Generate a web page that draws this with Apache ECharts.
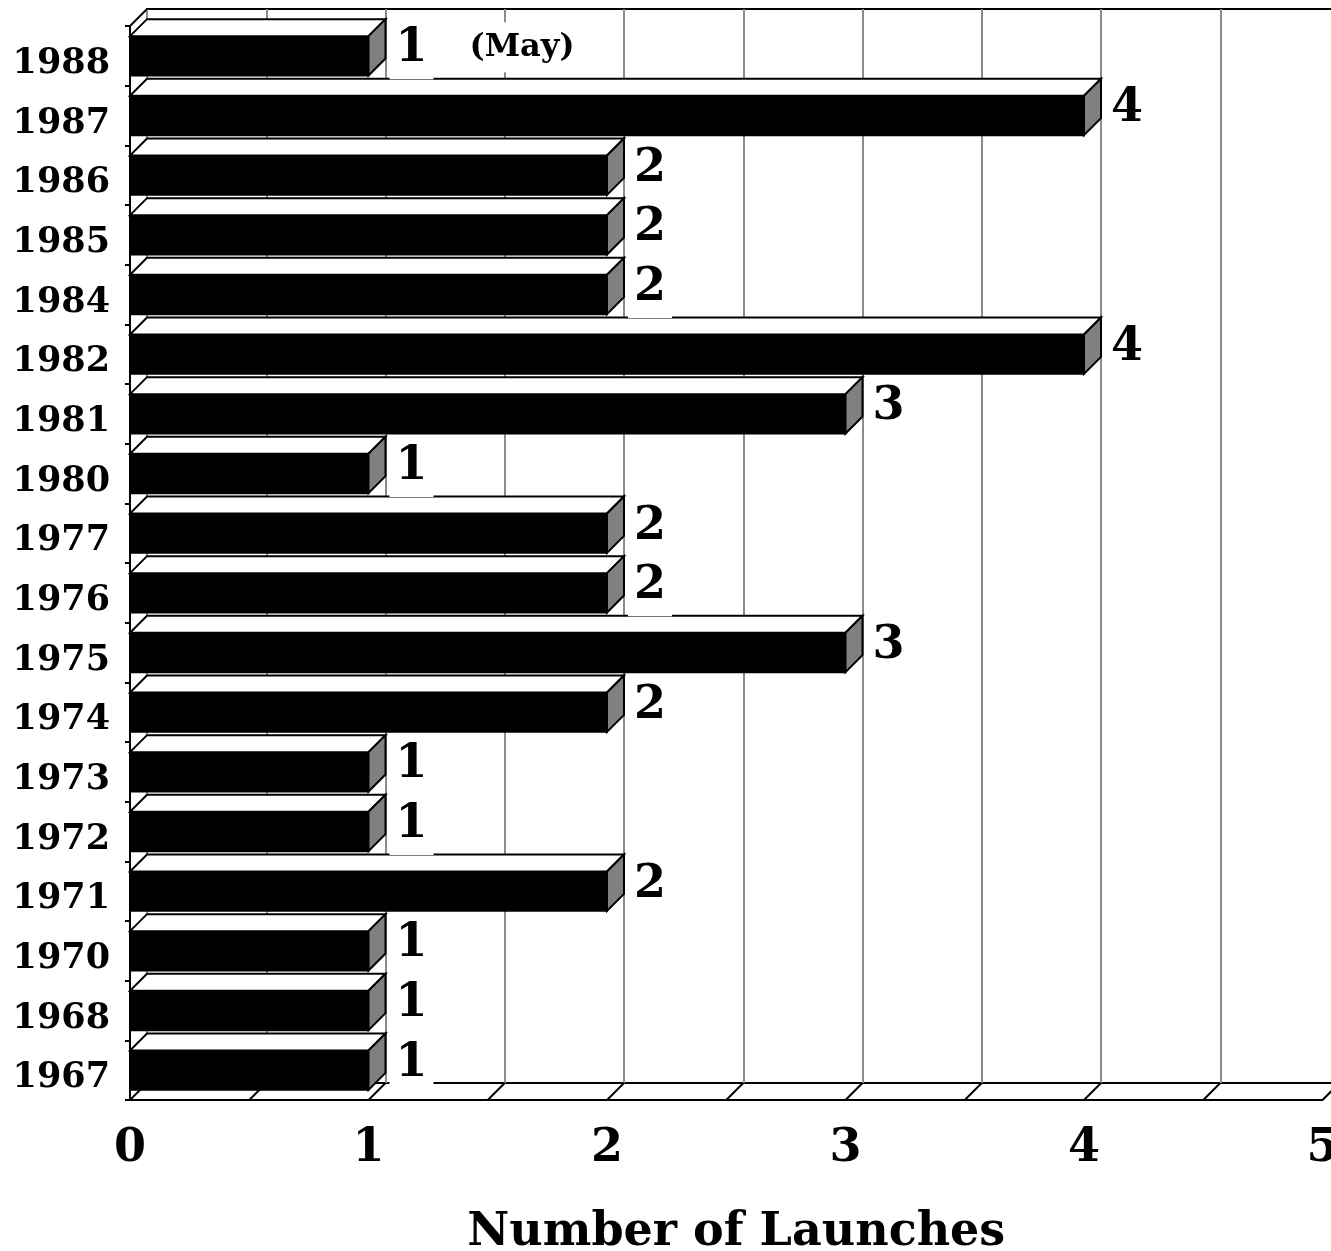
<!DOCTYPE html>
<html>
<head>
<meta charset="utf-8">
<script src="https://cdn.jsdelivr.net/npm/echarts@6/dist/echarts.min.js"></script>
<style>
  html, body { margin: 0; padding: 0; background: #fff; }
  #chart { width: 1331px; height: 1251px; }
</style>
</head>
<body>
<div id="chart"></div>
<script>
// years from bottom to top
const years = ['1967', '1968', '1970', '1971', '1972', '1973', '1974', '1975', '1976',
  '1977', '1980', '1981', '1982', '1984', '1985', '1986', '1987', '1988'];
const launches = [1, 1, 1, 2, 1, 1, 2, 3, 2, 2, 1, 3, 4, 2, 2, 2, 4, 1];
const notes = ['', '', '', '', '', '', '', '', '', '', '', '', '', '', '', '', '', '(May)'];
const xTicks = [0, 0.5, 1, 1.5, 2, 2.5, 3, 3.5, 4, 4.5, 5];

const FONT = 'DejaVu Serif';
const DEPTH = 17;   // 3d offset of back wall

const chart = echarts.init(document.getElementById('chart'));

// one 3d bar: black front, white top, grey side, plus value label
function renderBar(params, api) {
  const v = api.value(0);
  const i = api.value(1);
  const band = api.size([0, 1])[1];
  const h = band * 0.66;
  const p0 = api.coord([0, i]);
  const p1 = api.coord([v, i]);
  const x0 = p0[0], x1 = p1[0], yc = p0[1];
  const yT = yc - h / 2, yB = yc + h / 2, d = DEPTH;
  const line = { stroke: '#000', lineWidth: 2, lineJoin: 'miter' };
  const children = [
    { type: 'rect', shape: { x: x0, y: yT, width: x1 - x0, height: h },
      style: Object.assign({ fill: '#000' }, line) },
    { type: 'polygon', shape: { points: [[x0, yT], [x1, yT], [x1 + d, yT - d], [x0 + d, yT - d]] },
      style: Object.assign({ fill: '#fff' }, line) },
    { type: 'polygon', shape: { points: [[x1, yT], [x1 + d, yT - d], [x1 + d, yB - d], [x1, yB]] },
      style: Object.assign({ fill: '#808080' }, line) }
  ];
  const tx = x1 + d + 4, ty = yc - d / 2 + 2;
  children.push({
    type: 'text', z2: 10,
    style: { x: tx, y: ty, text: String(v), fill: '#000', font: 'bold 46px ' + FONT,
      align: 'left', verticalAlign: 'middle', lineHeight: 50,
      backgroundColor: '#fff', padding: [4, 6, 6, 6] }
  });
  if (notes[i]) {
    children.push({
      type: 'text', z2: 10,
      style: { x: tx + 78, y: ty - 2, text: notes[i], fill: '#000', font: 'bold 32px ' + FONT,
        align: 'left', verticalAlign: 'middle', lineHeight: 44,
        backgroundColor: '#fff', padding: [3, 2, 3, 2] }
    });
  }
  return { type: 'group', children: children };
}

// floor diagonals between front and back edge
function renderFloor(params, api) {
  const cs = params.coordSys;
  const x = api.coord([api.value(0), 0])[0];
  const yb = cs.y + cs.height;
  const kids = [
    { type: 'line', shape: { x1: x, y1: yb, x2: x + DEPTH, y2: yb - DEPTH },
      style: { stroke: '#000', lineWidth: 2 } }
  ];
  if (api.value(0) === 0) {
    kids.push({ type: 'line', shape: { x1: cs.x, y1: cs.y, x2: cs.x + DEPTH, y2: cs.y - DEPTH },
      style: { stroke: '#000', lineWidth: 2 } });
  }
  return { type: 'group', children: kids };
}

chart.setOption({
  animation: false,
  backgroundColor: '#fff',
  grid: [
    { left: 130, top: 26, width: 1192.5, height: 1074, outerBoundsMode: 'none', containLabel: false },
    { left: 130 + DEPTH, top: 26 - DEPTH, width: 1192.5, height: 1074,
      outerBoundsMode: 'none', containLabel: false,
      show: true, borderColor: '#000', borderWidth: 2, backgroundColor: 'transparent' }
  ],
  xAxis: [
    {
      gridIndex: 0, type: 'value', min: 0, max: 5, interval: 1,
      axisLine: { show: true, lineStyle: { color: '#000', width: 2 } },
      axisTick: { show: false },
      splitLine: { show: false },
      axisLabel: { color: '#000', fontFamily: FONT, fontWeight: 'bold', fontSize: 46,
        lineHeight: 46, margin: 26 },
      name: 'Number of Launches', nameLocation: 'middle', nameGap: 110,
      nameTextStyle: { color: '#000', fontFamily: FONT, fontWeight: 'bold', fontSize: 46,
        padding: [0, 0, 0, 20] }
    },
    {
      gridIndex: 1, type: 'value', min: 0, max: 5, interval: 0.5,
      axisLine: { show: false }, axisTick: { show: false }, axisLabel: { show: false },
      splitLine: { show: true, lineStyle: { color: '#8c8c8c', width: 2 } }
    }
  ],
  yAxis: [
    {
      gridIndex: 0, type: 'category', data: years,
      axisLine: { show: true, lineStyle: { color: '#000', width: 2 } },
      axisTick: { show: true, length: 5, lineStyle: { color: '#000', width: 2 } },
      axisLabel: { color: '#000', fontFamily: FONT, fontWeight: 'bold', fontSize: 35,
        margin: 20, verticalAlign: 'top', lineHeight: 16 }
    },
    {
      gridIndex: 1, type: 'category', data: years,
      axisLine: { show: false }, axisTick: { show: false }, axisLabel: { show: false }
    }
  ],
  series: [
    {
      type: 'custom', name: 'floor', xAxisIndex: 0, yAxisIndex: 0, z: 1,
      renderItem: renderFloor, data: xTicks.map(t => [t]), encode: { x: 0 },
      silent: true
    },
    {
      type: 'custom', name: 'Launches', xAxisIndex: 0, yAxisIndex: 0, z: 3,
      renderItem: renderBar,
      data: launches.map((v, i) => [v, i]),
      encode: { x: 0, y: 1 }
    }
  ]
});
</script>
</body>
</html>
